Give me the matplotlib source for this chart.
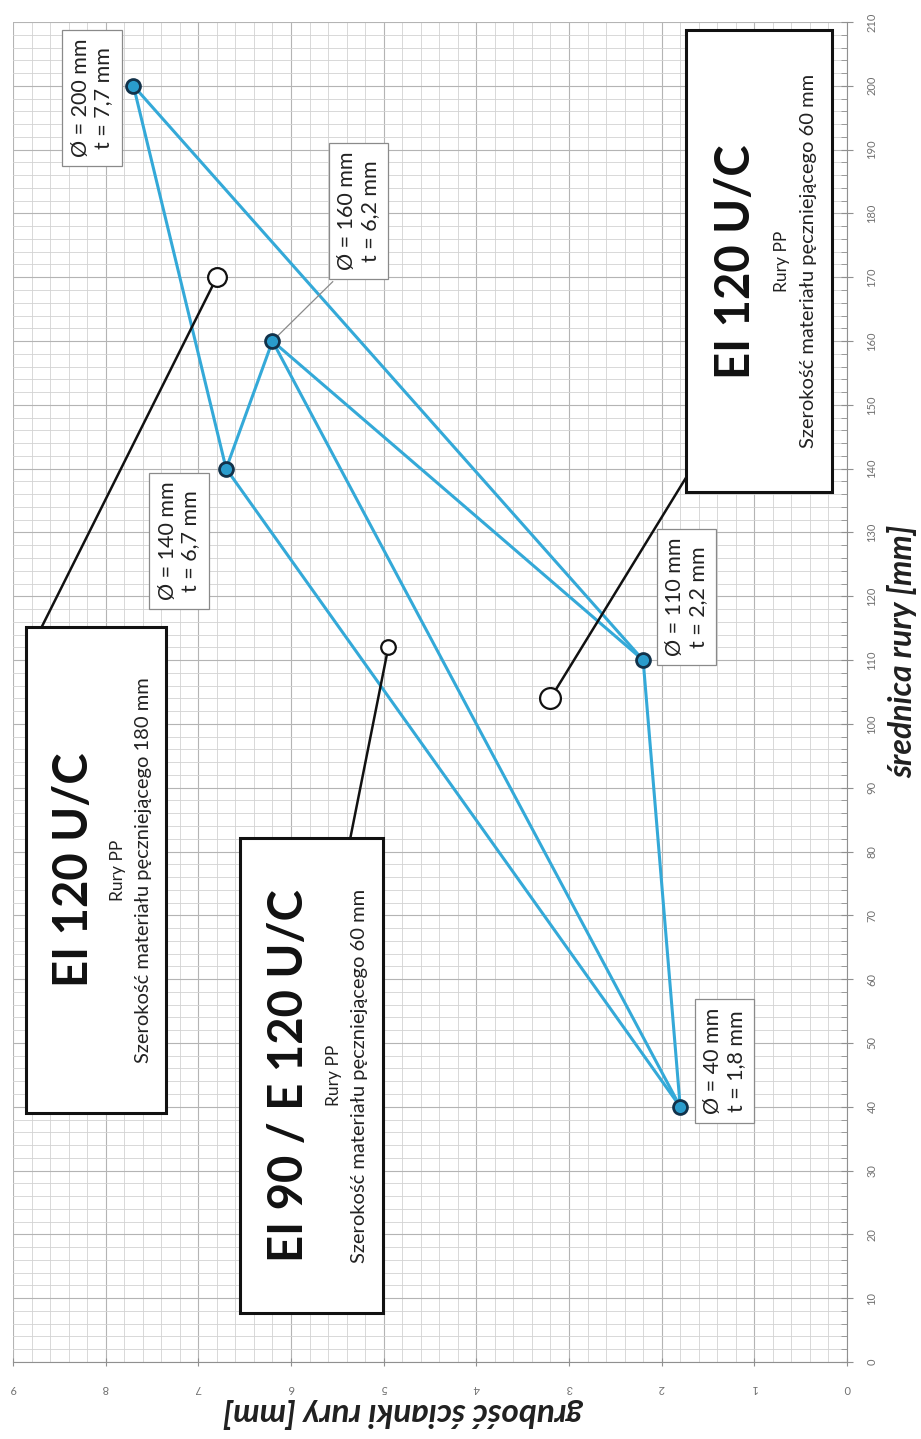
import matplotlib.pyplot as plt
from matplotlib.patches import Rectangle
from matplotlib.ticker import MultipleLocator

plt.rcParams['font.family'] = ['Lato', 'DejaVu Sans']

# punkty pomiarowe: średnica rury [mm] i grubość ścianki [mm]
srednica = [40, 110, 140, 160, 200]
grubosc = [1.8, 2.2, 6.7, 6.2, 7.7]
opisy = ['Ø = 40 mm\nt = 1,8 mm', 'Ø = 110 mm\nt = 2,2 mm', 'Ø = 140 mm\nt = 6,7 mm',
         'Ø = 160 mm\nt = 6,2 mm', 'Ø = 200 mm\nt = 7,7 mm']
# odcinki łączące punkty (pary średnic)
polaczenia = [(200, 140), (200, 110), (140, 160), (160, 110), (160, 40), (140, 40), (110, 40)]

# punkty odniesienia dla ramek klasyfikacji
ref_srednica = [170, 112, 104]
ref_grubosc = [6.8, 4.95, 3.2]

klasy = ['EI 120 U/C', 'EI 90 / E 120 U/C', 'EI 120 U/C']
podtytul = ['Rury PP', 'Rury PP', 'Rury PP']
szerokosc = ['Szerokość materiału pęczniejącego 180 mm',
             'Szerokość materiału pęczniejącego 60 mm',
             'Szerokość materiału pęczniejącego 60 mm']

# układ (t, d) - położenia opisów i ramek
pos_opisy = [(1.32, 47.2), (1.73, 119.9), (7.21, 128.7), (5.27, 180.4), (8.15, 198.1)]
ramki = [(7.35, 8.86, 39.0, 115.2), (5.01, 6.55, 7.7, 82.1), (0.16, 1.74, 136.3, 208.7)]
linie_ramek = [(8.69, 115.2), (5.36, 82.1), (1.72, 139.0)]
ref_rozmiar = [9, 7, 10]

fig = plt.figure(figsize=(9.21, 14.39), dpi=100)
ax = fig.add_axes([13 / 921, 1 - 1362 / 1439, (847 - 13) / 921, (1362 - 22) / 1439])

ax.set_xlim(9, 0)
ax.set_ylim(0, 210)
ax.xaxis.set_major_locator(MultipleLocator(1))
ax.xaxis.set_minor_locator(MultipleLocator(0.2))
ax.yaxis.set_major_locator(MultipleLocator(10))
ax.yaxis.set_minor_locator(MultipleLocator(2))
ax.grid(which='major', color='#b4b4b4', lw=0.8)
ax.grid(which='minor', color='#d2d2d2', lw=0.6)
ax.set_axisbelow(True)
ax.yaxis.tick_right()
ax.yaxis.set_label_position('right')
for s in ['top', 'left']:
    ax.spines[s].set_visible(False)
for s in ['right', 'bottom']:
    ax.spines[s].set_color('#909090')
ax.tick_params(which='both', colors='#909090', labelcolor='#707070', labelsize=8)
ax.tick_params(axis='y', which='major', direction='inout', length=8, pad=10)
ax.tick_params(axis='y', which='minor', direction='in', length=4)
ax.tick_params(axis='x', which='major', direction='inout', length=6, pad=12)
ax.tick_params(axis='x', which='minor', length=0)
for lab in ax.get_yticklabels():
    lab.set_rotation(90)
    lab.set_va('center')
for lab in ax.get_xticklabels():
    lab.set_rotation(180)

ax.set_ylabel('średnica rury [mm]', rotation=90, fontsize=23, fontweight='bold',
              fontstyle='italic', color='#202020')
ax.set_xlabel('grubość ścianki rury [mm]', rotation=180, fontsize=24, fontweight='bold',
              fontstyle='italic', color='#202020')
ax.yaxis.set_label_coords(1.048, 0.53)
ax.xaxis.set_label_coords(0.47, -0.027)

t_of = dict(zip(srednica, grubosc))
for a, b in polaczenia:
    ax.plot([t_of[a], t_of[b]], [a, b], color='#34a9d8', lw=2.2, zorder=3)
ax.plot(grubosc, srednica, 'o', ms=10, mfc='#2a9ccc', mec='#12324a', mew=2, zorder=5)

# ramki klasyfikacji z liniami do punktów odniesienia
for (t, d), (lt, ld), rs in zip(zip(ref_grubosc, ref_srednica), linie_ramek, ref_rozmiar):
    ax.plot([t, lt], [d, ld], color='#111111', lw=1.8, zorder=4)
    ax.plot(t, d, 'o', ms=rs * 1.5, mfc='white', mec='#111111', mew=1.6, zorder=5)

for (x0, x1, y0, y1), k, p, s in zip(ramki, klasy, podtytul, szerokosc):
    ax.add_patch(Rectangle((x0, y0), x1 - x0, y1 - y0, fc='white', ec='#111111',
                           lw=2.2, zorder=6))
    w = x1 - x0
    yc = (y0 + y1) / 2
    ax.text(x1 - w * 0.34, yc, k, rotation=90, ha='center', va='center', fontsize=34,
            fontweight='bold', color='#111111', zorder=7)
    ax.text(x1 - w * 0.66, yc, p, rotation=90, ha='center', va='center', fontsize=12.5,
            color='#222222', zorder=7)
    ax.text(x1 - w * 0.84, yc, s, rotation=90, ha='center', va='center', fontsize=14.5,
            color='#222222', zorder=7)

# opisy punktów
for (t, d), txt in zip(pos_opisy, opisy):
    ax.text(t, d, txt, rotation=90, ha='center', va='center', fontsize=15.5,
            color='#222222', linespacing=1.15, zorder=7,
            bbox=dict(boxstyle='square,pad=0.4', fc='white', ec='#8a8a8a', lw=0.9))
ax.plot([5.55, 6.2], [169.3, 160], color='#8a8a8a', lw=0.9, zorder=4)

fig.savefig('out.png', dpi=100)
